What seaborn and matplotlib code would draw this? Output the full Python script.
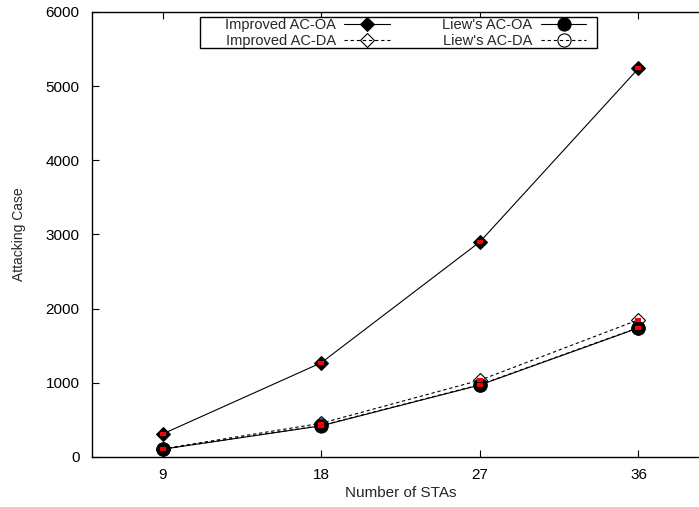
import numpy as np
import pandas as pd
import matplotlib
matplotlib.use("Agg")
import matplotlib.pyplot as plt
from matplotlib.patches import Rectangle
import seaborn as sns

stas = [9, 18, 27, 36]
improved_oa = [310, 1270, 2900, 5240]
improved_da = [110, 455, 1035, 1850]
liew_oa = [105, 420, 970, 1740]
liew_da = [105, 425, 975, 1745]
err_small = [10, 10, 12, 15]

sns.set_theme(style="ticks")
plt.rcParams["font.family"] = ["Liberation Sans", "DejaVu Sans"]
plt.rcParams["font.size"] = 11

fig = plt.figure(figsize=(6.99, 5.07), dpi=100)
ax = fig.add_axes([92 / 699, 50 / 507, (709 - 92) / 699, (457 - 12) / 507])

df = pd.DataFrame({"STAs": stas, "iOA": improved_oa, "iDA": improved_da,
                   "lOA": liew_oa, "lDA": liew_da})

sns.lineplot(data=df, x="STAs", y="iOA", ax=ax, color="black", lw=0.8,
             marker="D", markersize=7.5, markerfacecolor="black",
             markeredgecolor="black", label="Improved AC-OA")
sns.lineplot(data=df, x="STAs", y="lOA", ax=ax, color="black", lw=0.8,
             marker="o", markersize=9.5, markerfacecolor="black",
             markeredgecolor="black", label="Liew's AC-OA")
sns.lineplot(data=df, x="STAs", y="iDA", ax=ax, color="black", lw=0.8,
             linestyle=(0, (3, 2.5)), marker="D", markersize=7.5,
             markerfacecolor="none", markeredgecolor="black",
             markeredgewidth=0.8, label="Improved AC-DA")
sns.lineplot(data=df, x="STAs", y="lDA", ax=ax, color="black", lw=0.8,
             linestyle=(0, (3, 2.5)), marker="o", markersize=9.5,
             markerfacecolor="none", markeredgecolor="black",
             markeredgewidth=0.8, label="Liew's AC-DA")

# little red error bars sitting inside the markers
for ys in [improved_oa, improved_da, liew_oa]:
    ax.errorbar(stas, ys, yerr=err_small, fmt="none", ecolor="red",
                elinewidth=1.2, capsize=2.2, capthick=1.5, zorder=5)

ax.set_xlim(5, 40)
ax.set_ylim(0, 6000)
ax.set_xticks(stas)
ax.set_yticks(range(0, 6001, 1000))
ax.tick_params(direction="in", length=5, width=0.8, top=True, colors="black",
               labelsize=11, pad=8)
ax.tick_params(axis="y", right=False, pad=9)
for s in ax.spines.values():
    s.set_linewidth(1.0)
    s.set_color("black")

ax.set_xlabel("Number of STAs", fontsize=11, labelpad=3)
ax.set_ylabel("Attacking Case", fontsize=10, labelpad=14)

handles, labels = ax.get_legend_handles_labels()
ax.get_legend().remove()
order = [0, 2, 1, 3]
leg = fig.legend([handles[i] for i in order], [labels[i] for i in order],
                 ncol=2, markerfirst=False, loc="center",
                 bbox_to_anchor=(405.5 / 699, 1 - 33.3 / 507),
                 frameon=False, fontsize=10.5, handlelength=3.1,
                 columnspacing=3.6, borderpad=0, labelspacing=0.12,
                 handletextpad=0.6, borderaxespad=0)
for t in leg.get_texts():
    t.set_ha("right")

# gnuplot style key box
fig.patches.append(Rectangle((200 / 699, 1 - 48 / 507), 397 / 699, 31 / 507,
                             transform=fig.transFigure, fill=True,
                             facecolor="white", edgecolor="black", lw=1.0,
                             zorder=3))
leg.set_zorder(4)

fig.savefig("out.png", dpi=100)
